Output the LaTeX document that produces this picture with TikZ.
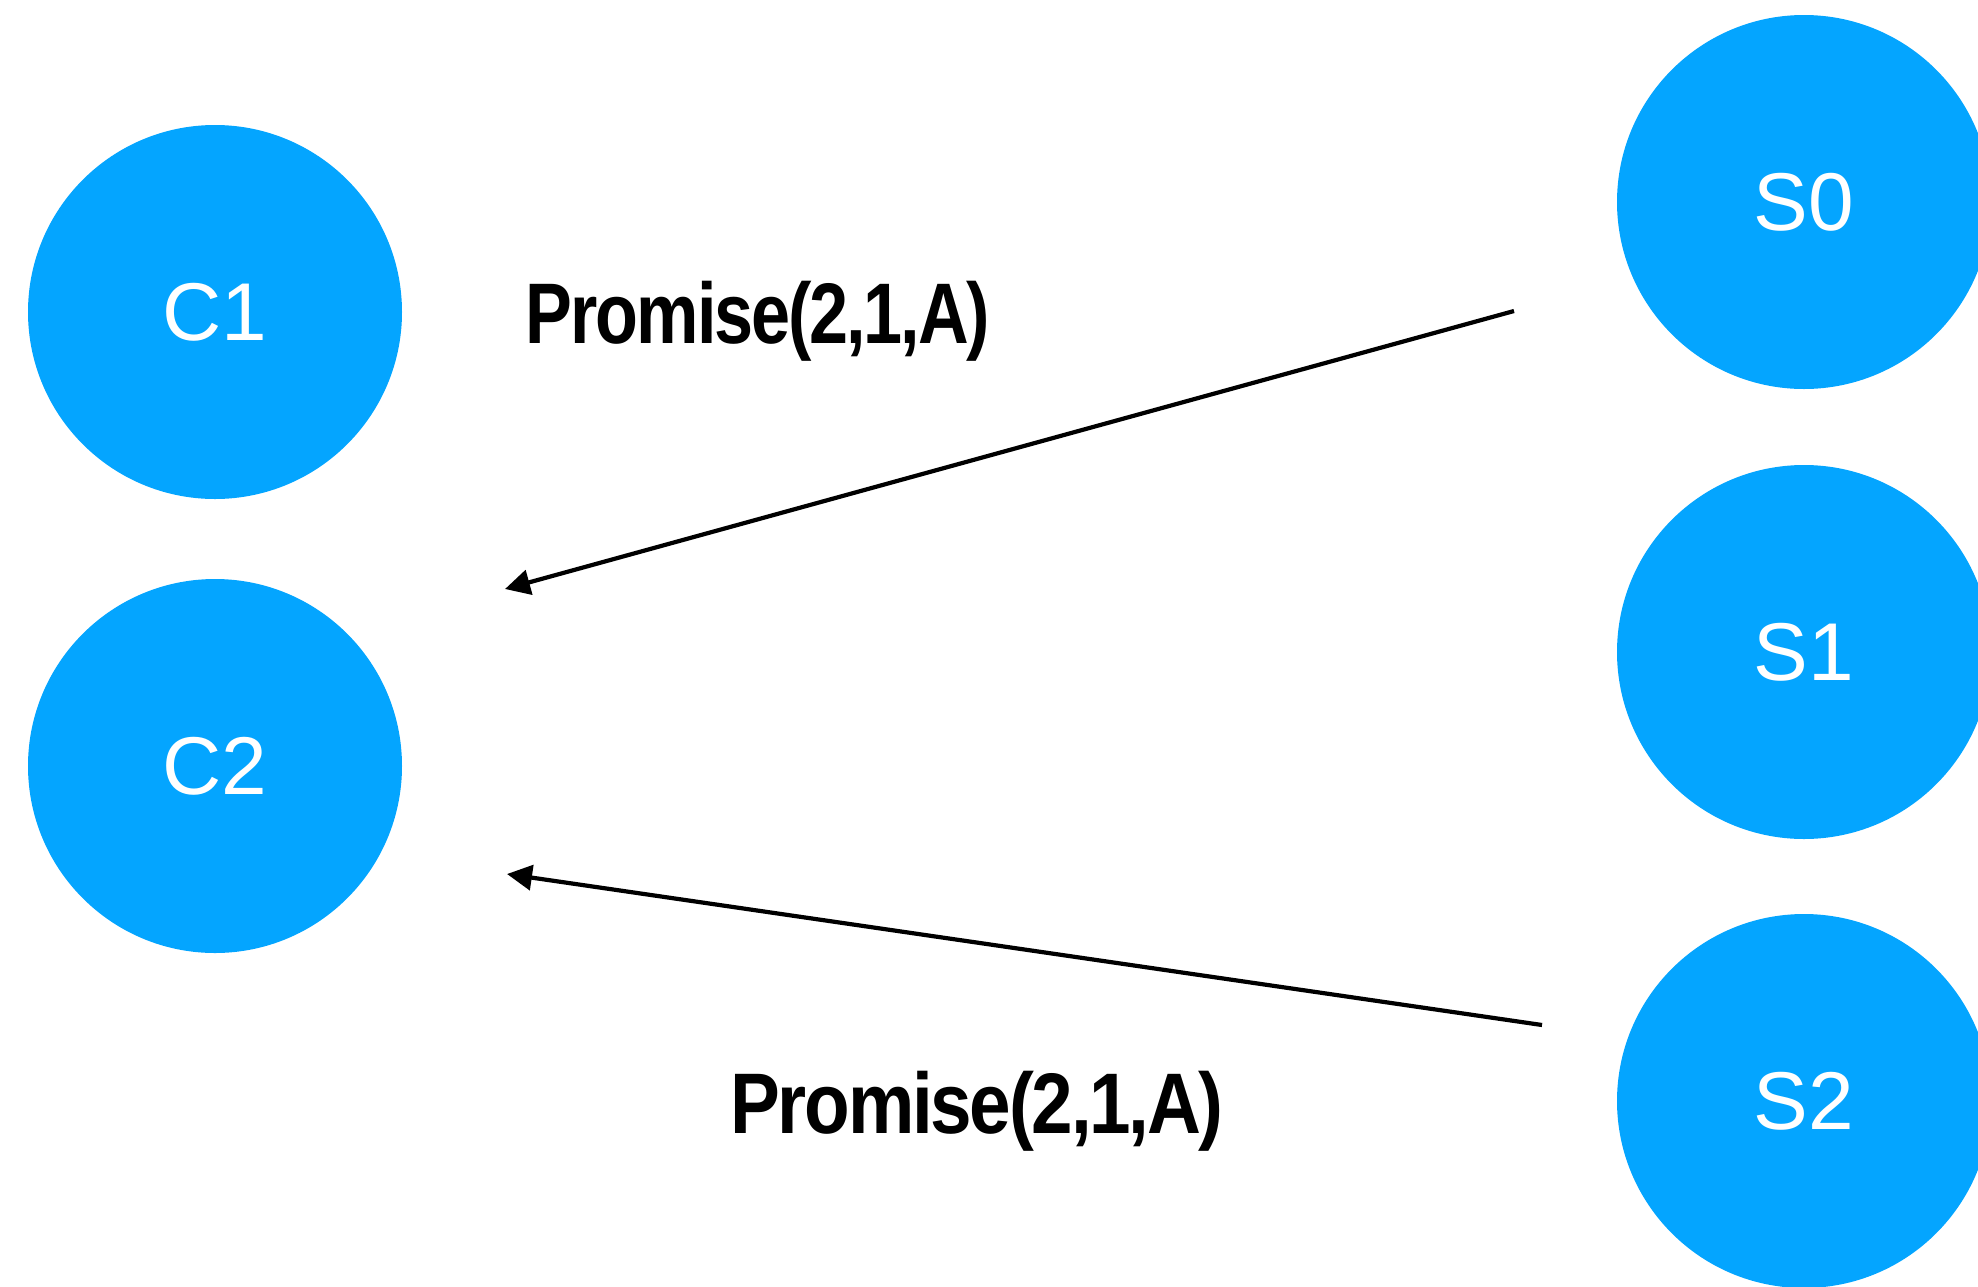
\documentclass[tikz,border=0pt]{standalone}
\usepackage{fontspec}
\setmainfont{Liberation Sans}
\newfontfamily\lblfont{Liberation Sans}[LetterSpace=-3]
\usetikzlibrary{arrows.meta}
\definecolor{nodeblue}{RGB}{4,165,255}
\tikzset{
  agent/.style={circle, fill=nodeblue, draw=none, inner sep=0pt, minimum size=374pt,
    text=white, font=\fontsize{82}{90}\selectfont},
  msg/.style={draw=black, line width=4.2pt, -{Triangle[length=25pt,width=25pt]}},
  msglabel/.style={inner sep=0pt, anchor=base, font=\lblfont\bfseries\fontsize{86}{100}\selectfont}
}
\begin{document}
\begin{tikzpicture}[x=1pt,y=-1pt]
\useasboundingbox (0,0) rectangle (1978,1286);
\clip (0,0) rectangle (1978,1286);
\node[agent] (C1) at (215,312) {C1};
\node[agent] (C2) at (215,766) {C2};
\node[agent] (S0) at (1804,202) {S0};
\node[agent] (S1) at (1804,652) {S1};
\node[agent] (S2) at (1804,1101) {S2};
\coordinate (a1s) at (1514,311);
\coordinate (a1e) at (505,589);
\coordinate (a2s) at (1542,1025);
\coordinate (a2e) at (507,874);
\draw[msg] (a1s) -- (a1e);
\draw[msg] (a2s) -- (a2e);
\node[msglabel] (L1) at (758,343) {\scalebox{0.816}[1]{Promise(2,1,A)}};
\node[msglabel] (L2) at (977,1133) {\scalebox{0.868}[1]{Promise(2,1,A)}};
\end{tikzpicture}
\end{document}
